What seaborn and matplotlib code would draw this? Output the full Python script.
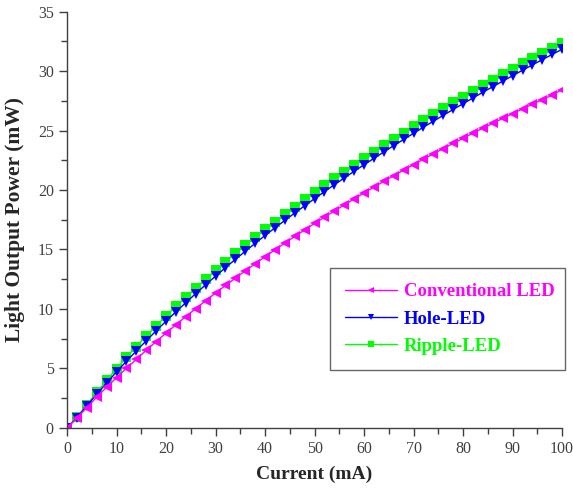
import pandas as pd
import numpy as np
import matplotlib
matplotlib.use("Agg")
import matplotlib.pyplot as plt
from matplotlib.ticker import MultipleLocator
from matplotlib.lines import Line2D
import seaborn as sns

# --------------------------------------------------
# DATA
# --------------------------------------------------

current = list(range(0, 101, 2))

ripple_led = [
    0.00, 0.90, 1.95, 2.98, 3.98, 4.98, 5.92, 6.83, 7.71, 8.57,
    9.40, 10.21, 10.99, 11.76, 12.51, 13.25, 13.97, 14.67, 15.36, 16.04,
    16.70, 17.35, 17.98, 18.60, 19.21, 19.81, 20.40, 20.98, 21.55, 22.12,
    22.68, 23.23, 23.77, 24.31, 24.84, 25.36, 25.87, 26.37, 26.87, 27.37,
    27.86, 28.34, 28.81, 29.28, 29.74, 30.20, 30.65, 31.10, 31.54, 31.97,
    32.40,
]

hole_led = [
    0.00, 0.85, 1.85, 2.83, 3.78, 4.70, 5.60, 6.47, 7.32, 8.16,
    8.97, 9.76, 10.53, 11.29, 12.03, 12.76, 13.47, 14.17, 14.85, 15.52,
    16.18, 16.82, 17.45, 18.07, 18.68, 19.28, 19.87, 20.45, 21.02, 21.58,
    22.13, 22.67, 23.21, 23.74, 24.26, 24.78, 25.29, 25.79, 26.29, 26.78,
    27.27, 27.75, 28.23, 28.70, 29.16, 29.62, 30.08, 30.53, 30.97, 31.41,
    31.85,
]

conventional_led = [
    0.00, 0.82, 1.70, 2.58, 3.42, 4.22, 5.00, 5.77, 6.52, 7.25,
    7.97, 8.67, 9.36, 10.03, 10.69, 11.34, 11.97, 12.59, 13.20, 13.80,
    14.39, 14.97, 15.54, 16.10, 16.65, 17.19, 17.72, 18.24, 18.75, 19.26,
    19.76, 20.25, 20.73, 21.21, 21.68, 22.14, 22.60, 23.05, 23.49, 23.93,
    24.36, 24.79, 25.21, 25.62, 26.03, 26.43, 26.83, 27.22, 27.61, 27.99,
    28.45,
]

series_names = ["Conventional LED", "Hole-LED", "Ripple-LED"]
series_values = [conventional_led, hole_led, ripple_led]
series_colors = ["#FF00FF", "#0000FF", "#00FF00"]
series_markers = ["<", "v", "s"]

# --------------------------------------------------
# STYLE
# --------------------------------------------------

sns.set_style("ticks")
plt.rcParams["font.family"] = ["Liberation Serif", "DejaVu Serif"]

fig = plt.figure(figsize=(5.73, 4.90), dpi=100)
ax = fig.add_axes([0.117, 0.127, 0.864, 0.849])

# draw green first, then blue, then magenta on top
for name, vals, col, mk in reversed(list(zip(series_names, series_values,
                                            series_colors, series_markers))):
    sns.lineplot(
        x=current,
        y=vals,
        ax=ax,
        color=col,
        marker=mk,
        markersize=7.5,
        markeredgewidth=0,
        linewidth=1.0,
        label=name,
    )

ax.set_xlim(0, 100)
ax.set_ylim(0, 35)
ax.xaxis.set_major_locator(MultipleLocator(10))
ax.xaxis.set_minor_locator(MultipleLocator(5))
ax.yaxis.set_major_locator(MultipleLocator(5))
ax.yaxis.set_minor_locator(MultipleLocator(2.5))

for side in ["top", "right"]:
    ax.spines[side].set_visible(False)
for side in ["left", "bottom"]:
    ax.spines[side].set_color("#404040")
    ax.spines[side].set_linewidth(1.0)

ax.tick_params(which="major", direction="out", length=6, width=1,
               color="#404040", labelsize=11.5, labelcolor="#404040")
ax.tick_params(which="minor", direction="out", length=4, width=1,
               color="#404040")

ax.set_xlabel("Current (mA)", fontsize=14, fontweight="bold", labelpad=6)
ax.set_ylabel("Light Output Power (mW)", fontsize=15.5, fontweight="bold",
              labelpad=9)

# legend in original order
handles = [
    Line2D([0], [0], color=c, marker=m, markersize=5, markeredgewidth=0,
           linewidth=1.0)
    for c, m in zip(series_colors, series_markers)
]
leg = ax.legend(
    handles, series_names,
    loc="lower left",
    bbox_to_anchor=(0.531, 0.139, 0.475, 0.246),
    mode="expand",
    borderaxespad=0,
    frameon=True,
    fancybox=False,
    edgecolor="#404040",
    handlelength=2.8,
    handletextpad=0.35,
    borderpad=0.8,
    labelspacing=0.55,
    prop={"weight": "bold", "size": 13.5},
)
leg.get_frame().set_linewidth(1.0)
for txt, col in zip(leg.get_texts(), series_colors):
    txt.set_color(col)

fig.savefig("out.png", dpi=100)
